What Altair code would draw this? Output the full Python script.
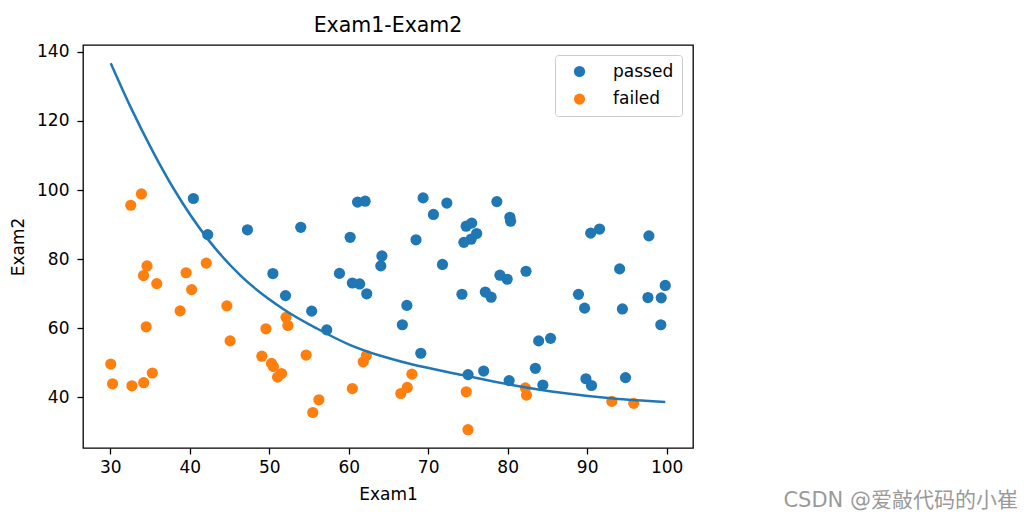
import altair as alt
import pandas as pd

exam1 = [34.62, 30.29, 35.85, 60.18, 79.03, 45.08, 61.11, 75.02, 76.10, 84.43,
         95.86, 75.01, 82.31, 69.36, 39.54, 53.97, 69.07, 67.95, 70.66, 76.98,
         67.37, 89.68, 50.53, 34.21, 77.92, 62.27, 80.19, 93.11, 61.83, 38.79,
         61.38, 85.40, 52.11, 52.05, 40.24, 54.64, 33.92, 64.18, 74.79, 34.18,
         83.90, 51.55, 94.44, 82.37, 51.05, 62.22, 77.19, 97.77, 62.07, 91.56,
         79.94, 99.27, 90.55, 34.52, 50.29, 49.59, 97.65, 32.58, 74.25, 71.80,
         75.40, 35.29, 56.25, 30.06, 44.67, 66.56, 40.46, 49.07, 80.28, 66.75,
         32.72, 64.04, 72.35, 60.46, 58.84, 99.83, 47.26, 50.46, 60.46, 82.23,
         88.91, 94.83, 67.32, 57.24, 80.37, 68.47, 42.08, 75.48, 78.64, 52.35,
         94.09, 90.45, 55.48, 74.49, 89.85, 83.49, 42.26, 99.32, 55.34, 74.78]
exam2 = [78.02, 43.89, 72.90, 86.31, 75.34, 56.32, 96.51, 46.55, 87.42, 43.53,
         38.23, 30.60, 76.48, 97.72, 76.04, 89.21, 52.74, 46.68, 92.93, 47.58,
         42.84, 65.80, 48.86, 44.21, 68.97, 69.95, 44.82, 38.80, 50.26, 65.00,
         72.81, 57.05, 63.13, 69.43, 71.17, 52.21, 98.87, 80.91, 41.57, 75.24,
         56.31, 46.86, 65.57, 40.62, 45.82, 52.06, 70.46, 86.73, 96.77, 88.70,
         74.16, 61.00, 43.39, 60.40, 49.80, 59.81, 68.86, 95.60, 69.82, 78.45,
         85.76, 47.02, 39.26, 49.59, 66.45, 41.09, 97.54, 51.88, 92.12, 60.99,
         43.31, 78.03, 96.23, 73.09, 75.86, 72.37, 88.48, 75.81, 42.51, 42.72,
         69.80, 45.69, 66.59, 59.51, 90.96, 85.59, 78.84, 90.42, 96.65, 60.77,
         77.16, 87.51, 35.57, 84.85, 45.36, 48.38, 87.10, 68.78, 64.93, 89.53]
admitted = [0, 0, 0, 1, 1, 0, 1, 1, 1, 1,
            0, 0, 1, 1, 0, 1, 1, 0, 1, 1,
            0, 1, 0, 0, 1, 1, 1, 0, 0, 0,
            1, 1, 0, 1, 0, 0, 0, 1, 0, 0,
            1, 0, 1, 0, 0, 0, 1, 1, 1, 1,
            1, 1, 1, 0, 0, 0, 1, 0, 1, 1,
            1, 0, 0, 0, 0, 0, 1, 0, 1, 1,
            0, 1, 1, 1, 1, 1, 1, 1, 0, 0,
            1, 1, 1, 1, 1, 1, 0, 1, 1, 0,
            1, 1, 0, 1, 1, 1, 1, 1, 1, 1]

curve_x = [30.06, 32.5, 35.4, 38.0, 42.2, 46.4, 51.8, 56.0, 60.2,
           64.0, 67.8, 74.4, 80.7, 87.0, 93.3, 99.83]
curve_y = [136.7, 124.3, 111.0, 100.3, 86.0, 75.2, 65.5, 59.9, 55.1,
           52.0, 49.6, 46.4, 43.5, 41.2, 39.6, 38.6]

labels = ["passed", "failed"]
colors = ["#1f77b4", "#ff7f0e"]
watermark = ["CSDN @爱敲代码的小崔"]

status = [labels[0] if a == 1 else labels[1] for a in admitted]
df = pd.DataFrame({"Exam1": exam1, "Exam2": exam2, "status": status})
df["order"] = [0 if s == labels[0] else 1 for s in status]
df = df.sort_values("order", kind="stable")
curve = pd.DataFrame({"Exam1": curve_x, "Exam2": curve_y})
wm = pd.DataFrame({"t": watermark})

FONT = "DejaVu Sans"
xs = alt.Scale(domain=[26.57, 103.32], nice=False, zero=False)
ys = alt.Scale(domain=[25.3, 142.0], nice=False, zero=False)

xaxis = alt.Axis(values=list(range(30, 101, 10)), title="Exam1", grid=False,
                 tickSize=6, labelPadding=5, titlePadding=11, domain=False)
yaxis = alt.Axis(values=list(range(40, 141, 20)), title="Exam2", grid=False,
                 tickSize=6, labelPadding=8, titlePadding=9, domain=False)

points = alt.Chart(df).mark_circle(size=125, opacity=1).encode(
    x=alt.X("Exam1:Q", scale=xs, axis=xaxis),
    y=alt.Y("Exam2:Q", scale=ys, axis=yaxis),
    color=alt.Color("status:N",
                    scale=alt.Scale(domain=labels, range=colors),
                    sort=labels,
                    legend=alt.Legend(title=None, orient="none", legendX=472, legendY=10,
                                      symbolType="circle", symbolSize=125,
                                      symbolStrokeWidth=0, symbolOffset=8,
                                      labelFontSize=17, labelOffset=25,
                                      rowPadding=9.6, padding=8,
                                      strokeColor="#cccccc", fillColor="white",
                                      cornerRadius=3)),
    order=alt.Order("order:Q"),
)

line = alt.Chart(curve).mark_line(color="#1f77b4", strokeWidth=2.5, interpolate="monotone").encode(
    x=alt.X("Exam1:Q", scale=xs),
    y=alt.Y("Exam2:Q", scale=ys),
)

mark_wm = alt.Chart(wm).mark_text(align="right", baseline="alphabetic", fontSize=21,
                                   color="#9a9a9a", font="DejaVu Sans, Noto Sans CJK SC").encode(
    text="t:N", x=alt.value(935), y=alt.value(462),
)

chart = alt.layer(points, line, mark_wm).properties(
    width=610, height=403,
    title=alt.TitleParams("Exam1-Exam2", fontSize=20.5, fontWeight="normal", font=FONT,
                          offset=6, color="#000"),
    autosize=alt.AutoSizeParams(type="none"),
    padding={"left": 75, "top": 37, "right": 331, "bottom": 65},
).configure_view(
    stroke="#000", strokeWidth=1.3
).configure_axis(
    labelFont=FONT, titleFont=FONT, labelFontSize=17, titleFontSize=17,
    labelColor="#000", titleColor="#000", tickColor="#000", tickWidth=1.3,
    titleFontWeight="normal",
).configure_legend(
    labelFont=FONT, labelColor="#000"
)

chart.save("out.html", embed_options={"renderer": "svg", "actions": False})
